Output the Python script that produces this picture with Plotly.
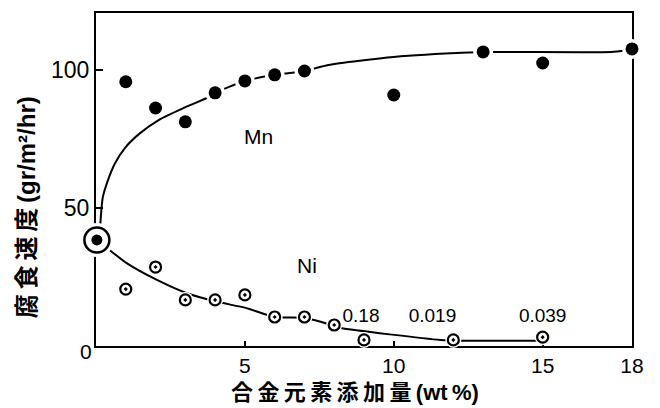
import plotly.graph_objects as go

# ---- data ----
mn_x = [1, 2, 3, 4, 5, 6, 7, 10, 13, 15, 18]
mn_y = [95.7, 86.2, 81.2, 91.7, 96.0, 98.2, 99.6, 90.9, 106.5, 102.5, 107.6]

ni_x = [1, 2, 3, 4, 5, 6, 7, 8, 9, 12, 15]
ni_y = [20.6, 28.6, 16.7, 16.7, 18.5, 10.5, 10.5, 7.6, 2.2, 2.2, 3.2]

fe_x = [0.03]
fe_y = [38.4]

mn_curve_x = [0.03, 0.13, 0.17, 0.23, 0.4, 0.63, 0.97, 1.47, 2.13, 2.9, 3.8, 4, 5, 6, 7, 7.8, 10, 12.5, 13.2, 17.3, 17.8]
mn_curve_y = [38.4, 42.4, 48, 54, 60, 66, 71.7, 77, 82, 86, 90.2, 91.7, 96, 98.2, 99.6, 101.8, 104.7, 106.3, 106.5, 106.5, 107]

ni_curve_x = [0.03, 0.37, 1.03, 2.03, 3.03, 4.07, 5.03, 6, 7, 7.9, 8.23, 11.57, 12.3, 15]
ni_curve_y = [38.4, 35.5, 30, 24, 19.2, 16, 13.8, 10.5, 10.2, 7.6, 6.5, 2.2, 1.9, 1.9]

note_x = [8.9, 11.3, 15.0]
note_y = [10.3, 10.3, 10.3]
note_text = ["0.18", "0.019", "0.039"]

x_tickvals = [5, 10, 15, 18]
y_tickvals = [50, 100]

x_title = "合\u2009金\u2009元\u2009素\u2009添\u2009加\u2009量\u2009(wt\u2009%)"
y_title = "腐\u2009食\u2009速\u2009度\u2009(gr/m²/hr)"

LATIN = "Liberation Sans, Arial, sans-serif"
CJK = "Liberation Sans, Noto Sans CJK JP, sans-serif"

fig = go.Figure()

# curves
fig.add_trace(go.Scatter(x=mn_curve_x, y=mn_curve_y, mode="lines",
                         line=dict(color="black", width=2, shape="spline", smoothing=0.6),
                         hoverinfo="skip", cliponaxis=False))
fig.add_trace(go.Scatter(x=ni_curve_x, y=ni_curve_y, mode="lines",
                         line=dict(color="black", width=2, shape="spline", smoothing=0.6),
                         hoverinfo="skip", cliponaxis=False))

# white halos (break lines around markers)
fig.add_trace(go.Scatter(x=mn_x, y=mn_y, mode="markers",
                         marker=dict(color="white", size=20, line=dict(width=0)),
                         hoverinfo="skip", cliponaxis=False))
fig.add_trace(go.Scatter(x=ni_x, y=ni_y, mode="markers",
                         marker=dict(color="white", size=16, line=dict(width=0)),
                         hoverinfo="skip", cliponaxis=False))
fig.add_trace(go.Scatter(x=fe_x, y=fe_y, mode="markers",
                         marker=dict(color="white", size=34, line=dict(width=0)),
                         hoverinfo="skip", cliponaxis=False))

# markers
fig.add_trace(go.Scatter(x=mn_x, y=mn_y, mode="markers", name="Mn",
                         marker=dict(color="black", size=13, line=dict(width=0)),
                         cliponaxis=False))
fig.add_trace(go.Scatter(x=ni_x, y=ni_y, mode="markers", name="Ni",
                         marker=dict(symbol="circle-dot", color="white", size=11,
                                     line=dict(color="black", width=2.2)),
                         cliponaxis=False))
fig.add_trace(go.Scatter(x=fe_x, y=fe_y, mode="markers",
                         marker=dict(symbol="circle", color="white", size=25,
                                     line=dict(color="black", width=2.5)),
                         cliponaxis=False))
fig.add_trace(go.Scatter(x=fe_x, y=fe_y, mode="markers",
                         marker=dict(color="black", size=11, line=dict(width=0)),
                         cliponaxis=False))

# value notes
fig.add_trace(go.Scatter(x=note_x, y=note_y, mode="text", text=note_text,
                         textfont=dict(family=LATIN, size=19, color="black"),
                         cliponaxis=False, hoverinfo="skip"))

fig.add_annotation(x=5.47, y=75.7, text="Mn", showarrow=False,
                   font=dict(family=LATIN, size=21, color="black"))
fig.add_annotation(x=7.1, y=29, text="Ni", showarrow=False,
                   font=dict(family=LATIN, size=21, color="black"))
fig.add_annotation(x=-0.6 / 18, xref="paper", y=0, yref="paper", yshift=-19,
                   text="0", showarrow=False,
                   font=dict(family=LATIN, size=21, color="black"))

# axis titles
fig.add_annotation(x=0.483, xref="paper", y=0, yref="paper", yshift=-46,
                   yanchor="middle", text="<b>" + x_title + "</b>", showarrow=False,
                   font=dict(family=CJK, size=22, color="black"))
fig.add_annotation(x=-0.1306, xref="paper", y=0.417, yref="paper",
                   xanchor="center", yanchor="middle", textangle=-90,
                   text="<b>" + y_title + "</b>", showarrow=False,
                   font=dict(family=CJK, size=24, color="black"))

# the page adds an 8 px body margin, so the figure is offset by (8, 8)
fig.update_layout(
    width=652, height=400,
    margin=dict(l=88, r=28, t=5, b=62),
    paper_bgcolor="white", plot_bgcolor="white",
    showlegend=False,
    font=dict(family=LATIN, size=21, color="black"),
)
fig.update_xaxes(range=[0, 18], tickvals=x_tickvals, ticks="inside", ticklen=5,
                 tickwidth=2, tickcolor="black", showline=True, linewidth=2,
                 linecolor="black", mirror=True, showgrid=False, zeroline=False,
                 layer="below traces", automargin=False,
                 tickfont=dict(family=LATIN, size=21, color="black"))
fig.update_yaxes(range=[0, 120.6], tickvals=y_tickvals, ticks="inside", ticklen=7,
                 tickwidth=2, tickcolor="black", showline=True, linewidth=2,
                 linecolor="black", mirror=True, showgrid=False, zeroline=False,
                 layer="below traces", automargin=False,
                 tickfont=dict(family=LATIN, size=23, color="black"))

fig.write_html("out.html")
